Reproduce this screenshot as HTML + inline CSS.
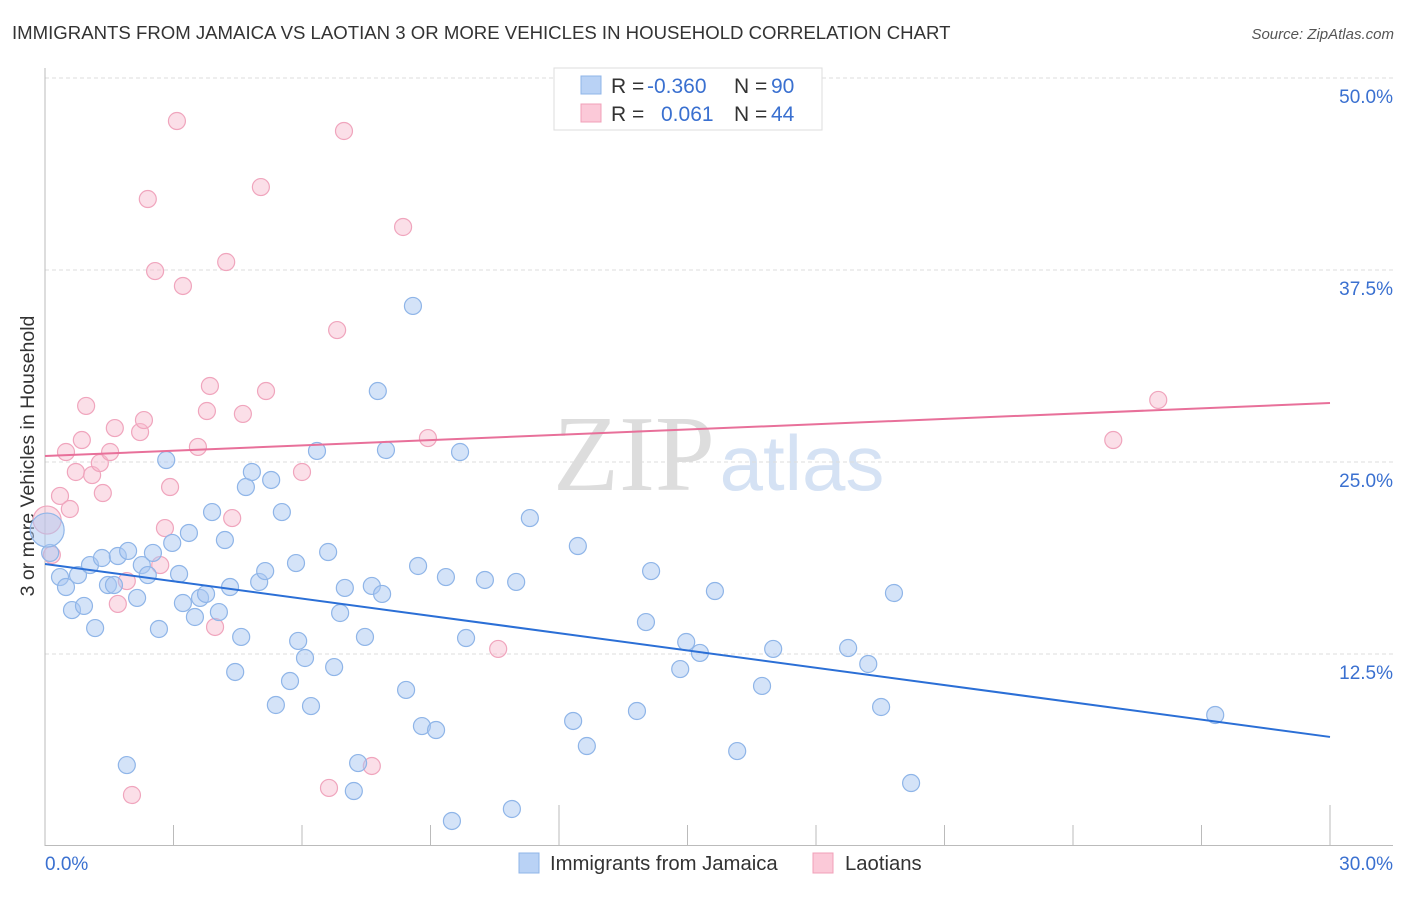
<!DOCTYPE html>
<html><head><meta charset="utf-8"><style>
body{margin:0;background:#fff;font-family:"Liberation Sans",sans-serif}
</style></head><body>
<svg width="1406" height="892" xmlns="http://www.w3.org/2000/svg" id="svg">
<text x="12" y="39" font-size="18.6" fill="#333">IMMIGRANTS FROM JAMAICA VS LAOTIAN 3 OR MORE VEHICLES IN HOUSEHOLD CORRELATION CHART</text>
<text x="1394" y="39" font-size="15" fill="#555" font-style="italic" text-anchor="end">Source: ZipAtlas.com</text>
<text x="0" y="0" transform="translate(34,456) rotate(-90)" font-size="19.5" fill="#333" text-anchor="middle">3 or more Vehicles in Household</text>
<g>
<text x="634" y="490" font-size="108" fill="#ddd" font-family="Liberation Serif,serif" text-anchor="middle">ZIP</text>
<text x="802" y="490" font-size="78" fill="#d5e2f4" text-anchor="middle">atlas</text>
</g>
<g id="grid"></g><g id="pts"></g><g id="lines"></g>
<g>
<rect x="554" y="68" width="268" height="62" fill="#fff" stroke="#ddd"/>
<rect x="581" y="76" width="20" height="18" fill="#b9d2f5" stroke="#8fb5e8"/>
<rect x="581" y="104" width="20" height="18" fill="#fbc9d8" stroke="#f0a0b8"/>
<text y="93" font-size="21" fill="#333"><tspan x="611">R =</tspan><tspan x="647" fill="#3a70d0">-0.360</tspan><tspan x="734">N =</tspan><tspan x="771" fill="#3a70d0">90</tspan></text>
<text y="121" font-size="21" fill="#333"><tspan x="611">R =</tspan><tspan x="661" fill="#3a70d0">0.061</tspan><tspan x="734">N =</tspan><tspan x="771" fill="#3a70d0">44</tspan></text>
</g>
<g>
<rect x="519" y="853" width="20" height="20" fill="#b9d2f5" stroke="#8fb5e8"/>
<text x="550" y="870" font-size="20.3" fill="#333">Immigrants from Jamaica</text>
<rect x="813" y="853" width="20" height="20" fill="#fbc9d8" stroke="#f0a0b8"/>
<text x="845" y="870" font-size="20.3" fill="#333">Laotians</text>
</g>
<text x="45" y="870" font-size="19" fill="#3a70d0">0.0%</text>
<text x="1393" y="870" font-size="19" fill="#3a70d0" text-anchor="end">30.0%</text>
</svg>
<script>
const blueX=[0.12,0.05,0.35,0.49,0.63,0.91,1.17,0.77,1.05,1.33,1.47,1.61,1.70,1.94,1.91,2.15,2.26,2.40,2.52,2.66,2.83,2.97,3.13,3.22,3.36,3.50,3.62,3.76,3.90,4.06,4.20,4.32,4.44,4.58,4.69,4.83,5.00,5.14,5.28,5.39,5.53,5.72,5.86,5.91,6.07,6.21,6.35,6.61,6.75,6.89,7.00,7.31,7.21,7.47,7.63,7.77,7.87,7.96,8.43,8.59,8.71,8.80,9.13,9.36,9.50,9.69,9.83,10.27,10.90,11.00,11.32,12.33,12.44,12.65,13.82,14.03,14.15,14.83,14.97,15.29,15.64,16.16,16.74,17.00,18.75,19.22,19.52,19.82,20.22,27.32];
const blueY=[19.08,20.57,17.51,16.86,15.36,15.63,14.19,17.64,18.29,18.75,16.99,16.99,18.88,19.21,5.27,16.15,18.29,17.64,19.08,14.13,25.13,19.73,17.71,15.82,20.38,14.91,16.15,16.41,21.74,15.23,19.92,16.86,11.33,13.61,23.37,24.35,17.19,17.90,23.83,9.18,21.74,10.74,18.42,13.35,12.24,9.11,25.72,19.14,11.65,15.17,16.80,5.40,3.58,13.61,16.93,29.62,16.41,25.78,10.16,35.16,18.23,7.81,7.55,17.51,1.63,25.65,13.54,17.32,2.41,17.19,21.35,8.14,19.53,6.51,8.79,14.58,17.90,11.52,13.28,12.57,16.60,6.18,10.42,12.83,12.89,11.85,9.05,16.47,4.10,8.53];
const pinkX=[0.05,0.16,0.35,0.58,0.49,0.72,0.86,0.96,1.10,1.28,1.35,1.52,1.63,1.70,1.91,2.03,2.22,2.31,2.40,2.57,2.69,2.80,2.92,3.08,3.22,3.57,3.78,3.85,3.97,4.23,4.37,4.62,5.04,5.16,6.00,6.63,6.82,6.98,7.63,8.36,8.94,10.58,24.94,25.99];
const pinkY=[21.22,18.95,22.79,21.94,25.65,24.35,26.43,28.65,24.15,24.93,22.98,25.65,27.21,15.76,17.25,3.32,26.95,27.73,42.12,37.43,18.29,20.70,23.37,47.20,36.46,25.98,28.32,29.95,14.26,38.02,21.35,28.13,42.90,29.62,24.35,3.78,33.59,46.55,5.21,40.30,26.56,12.83,26.43,29.04];
const blueTrend=[18.36,7.10];
const pinkTrend=[25.39,28.84];
const yTicks=[12.5,25,37.5,50];
const yTickLabels=["12.5%","25.0%","37.5%","50.0%"];
const xTicks=[0,3,6,9,12,15,18,21,24,27,30];
const NS="http://www.w3.org/2000/svg";
const sx=v=>45+v/30*1285, sy=v=>846-v/50*768;
function mk(t,a,p){const e=document.createElementNS(NS,t);for(const k in a)e.setAttribute(k,a[k]);p.appendChild(e);return e;}
const g=document.getElementById('grid');
yTicks.forEach((t,i)=>{
 const l=mk('line',{x1:45,x2:1393,y1:sy(t),y2:sy(t),stroke:'#ddd','stroke-dasharray':'4,3'},g);
 
 
 const tx=mk('text',{x:1393,y:sy(t)+25,'font-size':19,fill:'#3a70d0','text-anchor':'end'},g);
 tx.textContent=yTickLabels[i];
 
 
});
const ax=mk('line',{x1:45,x2:45,y1:68,y2:846,stroke:'#bbb'},g);


const bx=mk('line',{x1:45,x2:1393,y1:845.5,y2:845.5,stroke:'#bbb'},g);


xTicks.forEach(t=>{
 const tall=(t===12||t===30);
 const l=mk('line',{x1:sx(t),x2:sx(t),y1:tall?805:825,y2:846,stroke:'#bbb'},g);
 
 
});
const p=document.getElementById('pts');
pinkX.forEach((x,i)=>{
 const c=mk('circle',{cx:sx(x),cy:sy(pinkY[i]),r:i===0?14:8.5,fill:'rgba(247,185,205,0.45)',stroke:'#f0a5bd','stroke-width':1.2},p);
 
 
});
blueX.forEach((x,i)=>{
 const c=mk('circle',{cx:sx(x),cy:sy(blueY[i]),r:i===1?17:8.5,fill:'rgba(170,200,242,0.5)',stroke:'#8fb5e8','stroke-width':1.2},p);
 
 
});
const L=document.getElementById('lines');
const b=mk('line',{x1:sx(0),x2:sx(30),y1:sy(blueTrend[0]),y2:sy(blueTrend[1]),stroke:'#2b6fd6','stroke-width':2},L);


const pk=mk('line',{x1:sx(0),x2:sx(30),y1:sy(pinkTrend[0]),y2:sy(pinkTrend[1]),stroke:'#e8709a','stroke-width':2},L);


</script>
</body></html>
